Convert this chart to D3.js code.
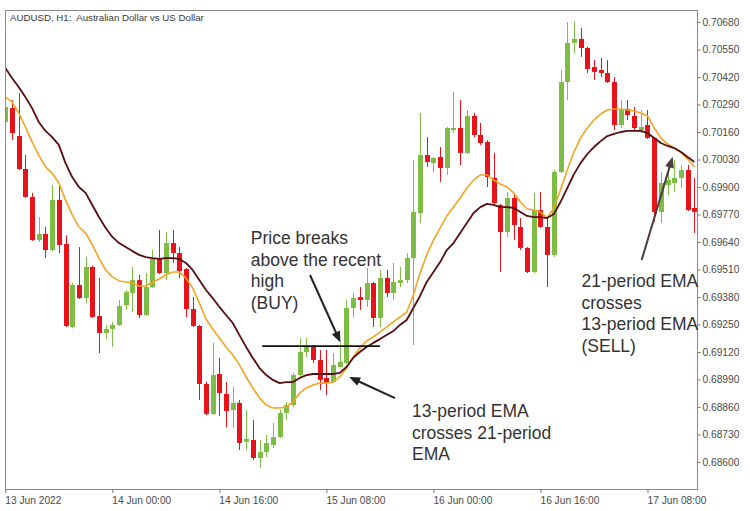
<!DOCTYPE html>
<html><head><meta charset="utf-8">
<script src="https://cdn.jsdelivr.net/npm/d3@7"></script>
<style>body{margin:0;background:#fff;}svg{display:block;}</style>
</head><body>
<svg id="chart" width="750" height="511"></svg>
<script>
const title = "AUDUSD, H1:  Australian Dollar vs US Dollar";
const opens = [
0.70207,0.70273,0.70141,0.69985,0.69853,0.69649,0.69678,0.69602,0.69839,0.69631,
0.69238,0.69437,0.69375,0.69522,0.69290,0.69210,0.69229,0.69248,0.69342,0.69399,
0.69460,0.69295,0.69427,0.69560,0.69493,0.69635,0.69588,0.69512,0.69323,0.69243,
0.68969,0.68827,0.69016,0.68922,0.68846,0.68879,0.68695,0.68704,0.68619,0.68647,
0.68680,0.68718,0.68832,0.68869,0.69011,0.69120,0.69144,0.69082,0.68997,0.68978,
0.69049,0.69068,0.69328,0.69380,0.69366,0.69446,0.69281,0.69470,0.69399,0.69446,
0.69460,0.69564,0.69777,0.70051,0.70013,0.70042,0.69990,0.70169,0.70179,0.70061,
0.70236,0.70146,0.70113,0.69943,0.69815,0.69687,0.69848,0.69711,0.69612,0.69498,
0.69791,0.69711,0.69579,0.69971,0.70396,0.70581,0.70600,0.70557,0.70467,0.70453,
0.70439,0.70396,0.70193,0.70269,0.70236,0.70169,0.70193,0.70132,0.69782,0.69909,
0.69919,0.69943,0.69980,0.69801];
const highs = [
0.70302,0.70311,0.70344,0.70051,0.69872,0.69758,0.69711,0.69909,0.69909,0.69672,
0.69446,0.69616,0.69569,0.69527,0.69470,0.69248,0.69262,0.69366,0.69413,0.69522,
0.69484,0.69493,0.69602,0.69697,0.69687,0.69697,0.69616,0.69517,0.69380,0.69248,
0.68978,0.69163,0.69092,0.68978,0.68955,0.68893,0.68846,0.68799,0.68704,0.68728,
0.68784,0.68846,0.68884,0.69021,0.69186,0.69186,0.69153,0.69129,0.69129,0.69115,
0.69163,0.69366,0.69399,0.69427,0.69517,0.69451,0.69508,0.69508,0.69541,0.69522,
0.69588,0.70028,0.70250,0.70136,0.70042,0.70089,0.70184,0.70349,0.70311,0.70264,
0.70250,0.70203,0.70122,0.70061,0.69820,0.69876,0.69872,0.69753,0.69616,0.69872,
0.69876,0.69758,0.69980,0.70453,0.70680,0.70680,0.70652,0.70562,0.70500,0.70510,
0.70500,0.70420,0.70311,0.70311,0.70278,0.70264,0.70264,0.70136,0.69971,0.70018,
0.70028,0.70004,0.70004,0.69943];
const lows = [
0.70193,0.70122,0.69980,0.69848,0.69645,0.69640,0.69564,0.69597,0.69588,0.69238,
0.69233,0.69371,0.69352,0.69281,0.69115,0.69181,0.69144,0.69243,0.69319,0.69309,
0.69281,0.69290,0.69423,0.69489,0.69460,0.69541,0.69470,0.69285,0.69238,0.68893,
0.68822,0.68822,0.68817,0.68765,0.68761,0.68657,0.68657,0.68609,0.68572,0.68624,
0.68666,0.68713,0.68799,0.68860,0.69002,0.69096,0.69068,0.68940,0.68917,0.68973,
0.69049,0.69063,0.69285,0.69319,0.69333,0.69238,0.69238,0.69380,0.69366,0.69427,
0.69446,0.69153,0.69730,0.69995,0.69971,0.69924,0.69957,0.70155,0.70004,0.70056,
0.70136,0.70099,0.69900,0.69820,0.69498,0.69664,0.69649,0.69602,0.69493,0.69493,
0.69706,0.69427,0.69569,0.69966,0.70311,0.70533,0.70515,0.70439,0.70406,0.70420,
0.70392,0.70169,0.70179,0.70217,0.70169,0.70155,0.70127,0.69735,0.69730,0.69862,
0.69876,0.69895,0.69787,0.69683];
const closes = [
0.70278,0.70155,0.69985,0.69853,0.69649,0.69678,0.69602,0.69839,0.69626,0.69243,
0.69437,0.69375,0.69522,0.69285,0.69210,0.69229,0.69248,0.69337,0.69404,0.69460,
0.69295,0.69427,0.69560,0.69493,0.69635,0.69588,0.69503,0.69323,0.69243,0.68969,
0.68827,0.69011,0.68926,0.68841,0.68879,0.68690,0.68709,0.68619,0.68647,0.68690,
0.68718,0.68832,0.68869,0.69011,0.69120,0.69144,0.69082,0.68988,0.68973,0.69059,
0.69073,0.69328,0.69375,0.69366,0.69446,0.69281,0.69470,0.69399,0.69451,0.69460,
0.69564,0.69782,0.70051,0.70018,0.70037,0.69990,0.70179,0.70179,0.70061,0.70236,
0.70146,0.70108,0.69947,0.69824,0.69687,0.69848,0.69720,0.69612,0.69498,0.69791,
0.69711,0.69579,0.69971,0.70396,0.70581,0.70600,0.70557,0.70458,0.70444,0.70439,
0.70396,0.70193,0.70264,0.70240,0.70179,0.70184,0.70132,0.69782,0.69919,0.69933,
0.69943,0.69980,0.69791,0.69782];
const ema21 = [
0.70463,0.70415,0.70373,0.70325,0.70273,0.70207,0.70165,0.70136,0.70099,0.70013,
0.69947,0.69900,0.69872,0.69815,0.69758,0.69706,0.69664,0.69635,0.69616,0.69597,
0.69579,0.69569,0.69564,0.69560,0.69564,0.69564,0.69560,0.69541,0.69508,0.69460,
0.69413,0.69375,0.69333,0.69295,0.69257,0.69200,0.69144,0.69092,0.69044,0.69011,
0.68988,0.68973,0.68978,0.68978,0.68997,0.69011,0.69016,0.69016,0.69016,0.69016,
0.69021,0.69049,0.69092,0.69120,0.69144,0.69163,0.69181,0.69200,0.69219,0.69248,
0.69271,0.69328,0.69385,0.69451,0.69498,0.69545,0.69602,0.69635,0.69683,0.69730,
0.69777,0.69805,0.69820,0.69815,0.69805,0.69805,0.69801,0.69782,0.69763,0.69758,
0.69758,0.69753,0.69772,0.69829,0.69895,0.69961,0.70013,0.70056,0.70089,0.70117,
0.70141,0.70151,0.70160,0.70165,0.70165,0.70165,0.70155,0.70132,0.70108,0.70094,
0.70084,0.70065,0.70042,0.70018];
const ema13 = [
0.70325,0.70302,0.70250,0.70184,0.70113,0.70051,0.69995,0.69966,0.69919,0.69839,
0.69768,0.69711,0.69683,0.69626,0.69564,0.69508,0.69475,0.69456,0.69451,0.69446,
0.69432,0.69432,0.69451,0.69465,0.69484,0.69498,0.69498,0.69470,0.69423,0.69352,
0.69276,0.69229,0.69186,0.69144,0.69106,0.69059,0.69002,0.68950,0.68903,0.68869,
0.68855,0.68855,0.68860,0.68884,0.68926,0.68950,0.68964,0.68973,0.68973,0.68978,
0.69002,0.69044,0.69096,0.69139,0.69172,0.69191,0.69214,0.69238,0.69262,0.69285,
0.69309,0.69389,0.69493,0.69579,0.69649,0.69706,0.69763,0.69805,0.69848,0.69895,
0.69933,0.69957,0.69957,0.69933,0.69914,0.69900,0.69872,0.69829,0.69796,0.69791,
0.69782,0.69753,0.69801,0.69886,0.69980,0.70065,0.70132,0.70179,0.70217,0.70245,
0.70264,0.70269,0.70269,0.70264,0.70259,0.70250,0.70236,0.70179,0.70132,0.70103,
0.70084,0.70065,0.70032,0.69995];
const xTickBars = [0,16,32,48,64,80,96];
const xTickLabels = ["13 Jun 2022","14 Jun 00:00","14 Jun 16:00","15 Jun 08:00","16 Jun 00:00","16 Jun 16:00","17 Jun 08:00"];
const yTicks = [0.70680,0.70550,0.70420,0.70290,0.70160,0.70030,0.69900,0.69770,0.69640,0.69510,0.69380,0.69250,0.69120,0.68990,0.68860,0.68730,0.68600];
// annotations in data space (bar index, price)
const buyText = ["Price breaks","above the recent","high","(BUY)"];
const crossText = ["13-period EMA","crosses 21-period","EMA"];
const sellText = ["21-period EMA","crosses","13-period EMA","(SELL)"];
const breakLevel = {price:0.69148, from:38.4, to:56.0};
const arrows = [
  {from:[45.55,0.69484], to:[50.1,0.69165], color:"#222"},
  {from:[58.25,0.68902], to:[51.4,0.69002], color:"#222"},
  {from:[95.13,0.69555], to:[99.76,0.70043], color:"#4d3c3c"}
];
const textAnchors = [
  {lines:buyText, at:[36.7,0.69631]},
  {lines:crossText, at:[60.8,0.68813]},
  {lines:sellText, at:[86.13,0.69427]}
];

const L=5, T=10, R=698, B=489;
const svg = d3.select("#chart");
const x = d3.scaleLinear().domain([-0.045, 103.55]).range([L, R]);
const y = d3.scaleLinear().domain([0.68600, 0.70680]).range([462, 22]);
const FONT = "'Liberation Sans', Arial, sans-serif";
const GREEN = "#7dbd46", RED = "#e8121b";

svg.append("defs").append("clipPath").attr("id","clip")
  .append("rect").attr("x",L).attr("y",T).attr("width",R-L).attr("height",B-T);

const plot = svg.append("g").attr("clip-path","url(#clip)");
const idx = d3.range(closes.length);

// wicks
plot.append("g").selectAll("line").data(idx).join("line")
  .attr("x1", i => Math.round(x(i)) + 0.5).attr("x2", i => Math.round(x(i)) + 0.5)
  .attr("y1", i => y(highs[i])).attr("y2", i => y(lows[i]))
  .attr("stroke", i => closes[i] >= opens[i] ? GREEN : RED)
  .attr("stroke-width", 1);
// bodies
plot.append("g").selectAll("rect").data(idx).join("rect")
  .attr("x", i => Math.round(x(i)) - 2)
  .attr("width", 5)
  .attr("y", i => y(Math.max(opens[i], closes[i])))
  .attr("height", i => Math.max(1.5, Math.abs(y(opens[i]) - y(closes[i]))))
  .attr("fill", i => closes[i] >= opens[i] ? GREEN : RED);

// EMA lines
const line = arr => d3.line().x(i => x(i)).y(i => y(arr[i]))(idx);
plot.append("path").attr("d", line(ema13)).attr("fill","none")
  .attr("stroke","#f4a425").attr("stroke-width",1.6).attr("stroke-linejoin","round");
plot.append("path").attr("d", line(ema21)).attr("fill","none")
  .attr("stroke","#5a0c0e").attr("stroke-width",1.8).attr("stroke-linejoin","round");

// frame
svg.append("rect").attr("x",L+0.5).attr("y",T+0.5).attr("width",R-L-1).attr("height",B-T)
  .attr("fill","none").attr("stroke","#8a8a8a").attr("stroke-width",1);

// title
svg.append("text").attr("x",10).attr("y",20.5).text(title)
  .style("white-space","pre")
  .attr("font-family",FONT).attr("font-size","9.7px").attr("fill","#3a3a3a");

// y axis
const yAxis = d3.axisRight(y).tickValues(yTicks).tickFormat(d3.format(".5f")).tickSize(3).tickPadding(2);
const gy = svg.append("g").attr("transform",`translate(${R-0.5},0)`).call(yAxis);
gy.select(".domain").remove();
gy.selectAll(".tick line").attr("stroke","#777");
gy.selectAll("text").attr("font-family",FONT).attr("font-size","10.2px").attr("fill","#4a4a4a");

// x axis
const xAxis = d3.axisBottom(x).tickValues(xTickBars).tickFormat((d,i)=>xTickLabels[i]).tickSize(4).tickPadding(1);
const gx = svg.append("g").attr("transform",`translate(0,${B})`).call(xAxis);
gx.select(".domain").remove();
gx.selectAll(".tick line").attr("stroke","#777");
gx.selectAll("text").attr("text-anchor","start").attr("dy","0.95em").attr("dx","-0.5")
  .attr("font-family",FONT).attr("font-size","10.2px").attr("fill","#4a4a4a");

// break level line
svg.append("line")
  .attr("x1", x(breakLevel.from)).attr("x2", x(breakLevel.to))
  .attr("y1", y(breakLevel.price)).attr("y2", y(breakLevel.price))
  .attr("stroke","#111").attr("stroke-width",1.6);

// arrows
arrows.forEach(a => {
  const x1 = x(a.from[0]), y1 = y(a.from[1]), x2 = x(a.to[0]), y2 = y(a.to[1]);
  const dx = x2-x1, dy = y2-y1, len = Math.hypot(dx,dy), ux = dx/len, uy = dy/len;
  const hl = 11, hw = 4.5;
  const bx = x2 - ux*hl, by = y2 - uy*hl;
  svg.append("line").attr("x1",x1).attr("y1",y1).attr("x2",bx+ux*2).attr("y2",by+uy*2)
    .attr("stroke",a.color).attr("stroke-width",2);
  svg.append("path")
    .attr("d",`M${x2},${y2}L${bx - uy*hw},${by + ux*hw}L${bx + uy*hw},${by - ux*hw}Z`)
    .attr("fill",a.color);
});

// annotation texts
textAnchors.forEach(t => {
  const tx = svg.append("text").attr("font-family",FONT).attr("font-size","17.5px").attr("fill","#333");
  t.lines.forEach((s,k) => {
    tx.append("tspan").attr("x", x(t.at[0])).attr("y", y(t.at[1]) + k*21.6).text(s);
  });
});
</script>
</body></html>
